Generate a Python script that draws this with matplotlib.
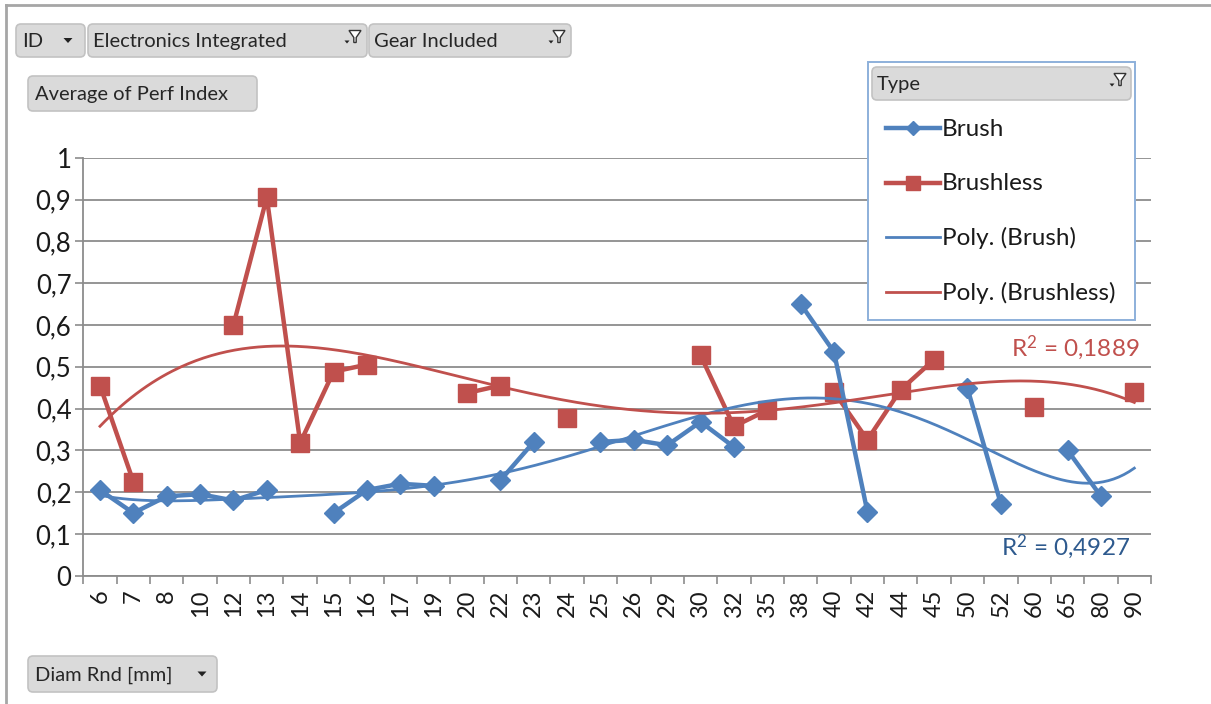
import numpy as np
import matplotlib
matplotlib.use("Agg")
import matplotlib.pyplot as plt
from matplotlib.patches import FancyBboxPatch, Rectangle, Polygon
from matplotlib.lines import Line2D

# ---- data -------------------------------------------------------------
diam_labels = ["6", "7", "8", "10", "12", "13", "14", "15", "16", "17", "19",
               "20", "22", "23", "24", "25", "26", "29", "30", "32", "35", "38",
               "40", "42", "44", "45", "50", "52", "60", "65", "80", "90"]
nan = np.nan
brush = [0.205, 0.15, 0.19, 0.195, 0.18, 0.205, nan, 0.15, 0.205, 0.22, 0.215,
         nan, 0.228, 0.32, nan, 0.32, 0.325, 0.312, 0.368, 0.308, nan, 0.65,
         0.535, 0.153, nan, nan, 0.448, 0.172, nan, 0.30, 0.19, nan]
brushless = [0.455, 0.225, nan, nan, 0.60, 0.905, 0.318, 0.488, 0.505, nan, nan,
             0.437, 0.455, nan, 0.377, nan, nan, nan, 0.527, 0.357, 0.396, nan,
             0.44, 0.325, 0.445, 0.517, nan, nan, 0.403, nan, nan, 0.44]
y_ticks = [0, 0.1, 0.2, 0.3, 0.4, 0.5, 0.6, 0.7, 0.8, 0.9, 1.0]
order_brush = 6
order_brushless = 4
r2_brush = 0.4927
r2_brushless = 0.1889

BLUE = "#4F81BD"
RED = "#C0504D"
BLUE_TXT = "#2E5A8E"
GRID = "#8C8C8C"
FONT = "Lato"

plt.rcParams["font.family"] = [FONT, "DejaVu Sans"]
plt.rcParams["mathtext.fontset"] = "custom"
plt.rcParams["mathtext.rm"] = FONT
plt.rcParams["mathtext.it"] = FONT
plt.rcParams["mathtext.bf"] = FONT

W, H = 1211, 704
fig = plt.figure(figsize=(W / 100, H / 100), dpi=100)
fig.patch.set_facecolor("white")

# plot area in pixel coordinates
left_px, right_px, top_px, bottom_px = 83.3, 1151.0, 157.7, 575.7
ax = fig.add_axes([left_px / W, (H - bottom_px) / H,
                   (right_px - left_px) / W, (bottom_px - top_px) / H])

x = np.arange(len(diam_labels))
b = np.array(brush, dtype=float)
bl = np.array(brushless, dtype=float)


def poly_trend(vals, order):
    """Least-squares polynomial over the category index (1-based), as a
    spreadsheet trendline on a category axis does."""
    m = ~np.isnan(vals)
    coef = np.polyfit(x[m] + 1, vals[m], order)
    xs = np.linspace(0, len(diam_labels) - 1, 400)
    return xs, np.polyval(coef, xs + 1)


xs_b, tr_b = poly_trend(b, order_brush)
xs_r, tr_r = poly_trend(bl, order_brushless)

ax.plot(x, b, color=BLUE, lw=3.2, marker="D", ms=10, mfc=BLUE, mec=BLUE,
        zorder=4, solid_capstyle="round")
ax.plot(x, bl, color=RED, lw=3.2, marker="s", ms=13.5, mfc=RED, mec=RED,
        zorder=3, solid_capstyle="round")
ax.plot(xs_b, tr_b, color=BLUE, lw=2.0, zorder=5)
ax.plot(xs_r, tr_r, color=RED, lw=2.0, zorder=5)

ax.set_xlim(-0.5, len(diam_labels) - 0.5)
ax.set_ylim(0, 1)
ax.set_yticks(y_ticks)
ax.set_yticklabels([("%g" % v).replace(".", ",") for v in y_ticks])
ax.yaxis.grid(True, color=GRID, lw=1.3)
ax.set_axisbelow(True)

ax.set_xticks(np.arange(-0.5, len(diam_labels), 1.0))
ax.set_xticklabels([])
ax.set_xticks(x, minor=True)
ax.set_xticklabels(diam_labels, minor=True, rotation=90, fontsize=17)
ax.tick_params(axis="x", which="major", length=6, width=1.2, color=GRID,
               direction="out")
ax.tick_params(axis="x", which="minor", length=0, pad=10, labelcolor="#1a1a1a")
ax.tick_params(axis="y", length=5.5, width=1.2, color=GRID, pad=3,
               labelsize=18.5, labelcolor="#1a1a1a")
for s in ["top", "right"]:
    ax.spines[s].set_visible(False)
for s in ["left", "bottom"]:
    ax.spines[s].set_color(GRID)
    ax.spines[s].set_linewidth(1.3)


def r2_text(v):
    return r"R$^{2}$ = " + ("%.4f" % v).replace(".", ",")


ax.text(31.17, 0.545, r2_text(r2_brushless),
        color=RED, fontsize=17.5, ha="right", va="center", zorder=6)
ax.text(30.87, 0.07, r2_text(r2_brush),
        color=BLUE_TXT, fontsize=17.5, ha="right", va="center", zorder=6)

# ---- overlay in pixel coordinates for field buttons and legend ---------
ov = fig.add_axes([0, 0, 1, 1], zorder=10)
ov.set_xlim(0, W)
ov.set_ylim(H, 0)
ov.axis("off")

# outer chart border
ov.plot([6, W + 5], [4.5, 4.5], color="#A6A6A6", lw=2)
ov.plot([6, 6], [4.5, H + 5], color="#A6A6A6", lw=2)


def dropdown(cx, cy, s=1.0):
    ov.add_patch(Polygon([[cx - 4.5 * s, cy - 2.5 * s], [cx + 4.5 * s, cy - 2.5 * s],
                          [cx, cy + 2.5 * s]], closed=True, fc="#222222", ec="none"))


def funnel(cx, cy):
    ov.add_patch(Polygon([[cx - 6, cy - 6], [cx + 6, cy - 6], [cx + 1.2, cy + 1],
                          [cx + 1.2, cy + 6], [cx - 1.2, cy + 6], [cx - 1.2, cy + 1]],
                         closed=True, fc="white", ec="#333333", lw=1.0))
    ov.add_patch(Polygon([[cx - 10.5, cy + 4], [cx - 5.5, cy + 4], [cx - 8, cy + 7]],
                         closed=True, fc="#222222", ec="none"))


def button(x0, y0, x1, y1, label, tx, icon=None, icon_x=None):
    ov.add_patch(FancyBboxPatch((x0, y0), x1 - x0, y1 - y0,
                                boxstyle="round,pad=0,rounding_size=5",
                                fc="#DADADA", ec="#C2C2C2", lw=1.2))
    ov.text(tx, (y0 + y1) / 2 + 1, label, fontsize=14.5, color="#262626",
            ha="left", va="center")
    if icon == "drop":
        dropdown(icon_x, (y0 + y1) / 2)
    elif icon == "filter":
        funnel(icon_x, (y0 + y1) / 2 - 4)


button(16, 24, 85, 57, "ID", 22, "drop", 68)
button(88, 24, 367, 57, "Electronics Integrated", 93, "filter", 355)
button(369, 24, 571, 57, "Gear Included", 374, "filter", 559)
button(28, 76, 257, 111, "Average of Perf Index", 35)
button(28, 656, 217, 692, "Diam Rnd [mm]", 35, "drop", 202)

# legend box
ov.add_patch(Rectangle((868, 62), 267, 258, fc="white", ec="#8DB0DA", lw=1.4))
button(872, 67, 1131, 100, "Type", 877, "filter", 1120)
legend_items = [
    ("Brush", BLUE, "D", 7.5, 3.2),
    ("Brushless", RED, "s", 10.5, 3.2),
    ("Poly. (Brush)", BLUE, None, 0, 2.0),
    ("Poly. (Brushless)", RED, None, 0, 2.0),
]
for i, (lab, col, mk, ms, lw) in enumerate(legend_items):
    yy = 128 + i * 54.7
    ov.add_line(Line2D([886, 940], [yy, yy], color=col, lw=lw))
    if mk:
        ov.add_line(Line2D([913], [yy], marker=mk, ms=ms, color=col, mec=col))
    ov.text(942, yy + 1, lab, fontsize=17.5, color="#1a1a1a", ha="left",
            va="center")

fig.savefig("out.png", dpi=100)
